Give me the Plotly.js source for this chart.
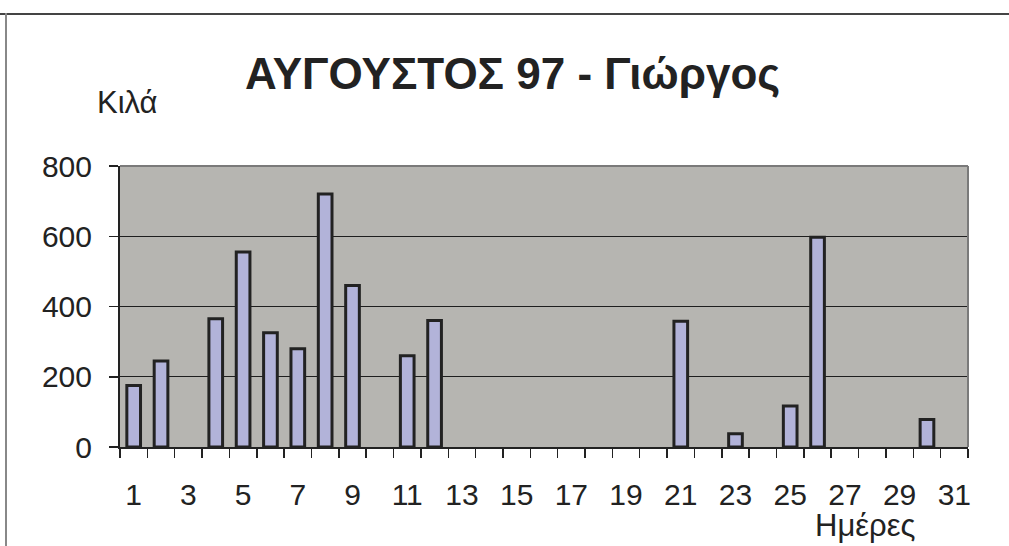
<!DOCTYPE html>
<html>
<head>
<meta charset="utf-8">
<script src="https://cdn.plot.ly/plotly-3.0.1.min.js"></script>
<style>
  html, body { margin: 0; padding: 0; background: #fff; overflow: hidden; }
  #chart { width: 1009px; height: 546px; }
  #frameTop { position: absolute; left: 0; top: 13px; width: 1009px; height: 2px; background: #444; }
  #frameLeft { position: absolute; left: 5px; top: 13px; width: 2px; height: 540px; background: #888; }
</style>
</head>
<body>
<div id="chart"></div>
<div id="frameTop"></div>
<div id="frameLeft"></div>
<script>
const days = [1,2,3,4,5,6,7,8,9,10,11,12,13,14,15,16,17,18,19,20,21,22,23,24,25,26,27,28,29,30,31];
const kilos = [175,245,null,365,555,325,280,720,460,null,260,360,null,null,null,null,null,null,null,null,358,null,38,null,117,597,null,null,null,78,null];
const xTickVals = [1,3,5,7,9,11,13,15,17,19,21,23,25,27,29,31];
const xTickText = ['1','3','5','7','9','11','13','15','17','19','21','23','25','27','29','31'];

const chartTitle = 'ΑΥΓΟΥΣΤΟΣ 97 - Γιώργος';
const yTitle = 'Κιλά';
const xTitle = 'Ημέρες';

const font = 'Liberation Sans, Arial, sans-serif';

const trace = {
  type: 'bar',
  x: days,
  y: kilos,
  width: 0.5,
  marker: { color: '#b2b3d9', line: { color: '#222', width: 3 } },
  hoverinfo: 'x+y'
};

const layout = {
  width: 1009, height: 546,
  margin: { l: 120, r: 41, t: 166, b: 99 },
  paper_bgcolor: '#ffffff',
  plot_bgcolor: '#b6b5b1',
  showlegend: false,
  font: { family: font, color: '#222' },
  title: {
    text: '<b>' + chartTitle + '</b>',
    font: { family: font, size: 44, color: '#222' },
    x: 0.508, xref: 'container', xanchor: 'center',
    y: 0.865, yref: 'container', yanchor: 'middle'
  },
  xaxis: {
    range: [0.5, 31.5],
    tickmode: 'array', tickvals: xTickVals, ticktext: xTickText,
    ticks: '',
    ticklabelstandoff: 20,
    tickfont: { family: font, size: 30, color: '#222' },
    minor: { tick0: 0.5, dtick: 1, ticks: 'outside', ticklen: 9, tickwidth: 1.5, tickcolor: '#222', showgrid: false },
    showgrid: false, zeroline: false,
    showline: true, linecolor: '#222', linewidth: 2,
    fixedrange: true
  },
  yaxis: {
    range: [0, 800], dtick: 200, tick0: 0,
    ticks: 'outside', ticklen: 9, tickwidth: 1.5, tickcolor: '#222',
    ticklabelstandoff: 11,
    tickfont: { family: font, size: 30, color: '#222' },
    showgrid: true, gridcolor: '#1e1e1e', gridwidth: 1.3,
    zeroline: false,
    showline: true, linecolor: '#222', linewidth: 2,
    fixedrange: true
  },
  shapes: [
    { type: 'line', xref: 'paper', yref: 'paper', x0: 0, x1: 1, y0: 1, y1: 1, line: { color: '#7a7a7a', width: 2 } },
    { type: 'line', xref: 'paper', yref: 'paper', x0: 1, x1: 1, y0: 0, y1: 1, line: { color: '#7a7a7a', width: 2 } }
  ],
  annotations: [
    { text: yTitle, xref: 'paper', yref: 'paper', x: 0.0094, y: 1.225, xanchor: 'center', yanchor: 'middle',
      showarrow: false, font: { family: font, size: 31, color: '#222' } },
    { text: xTitle, xref: 'paper', yref: 'paper', x: 0.879, y: -0.278, xanchor: 'center', yanchor: 'middle',
      showarrow: false, font: { family: font, size: 31, color: '#222' } }
  ]
};

Plotly.newPlot('chart', [trace], layout, { displayModeBar: false, staticPlot: true });
</script>
</body>
</html>
